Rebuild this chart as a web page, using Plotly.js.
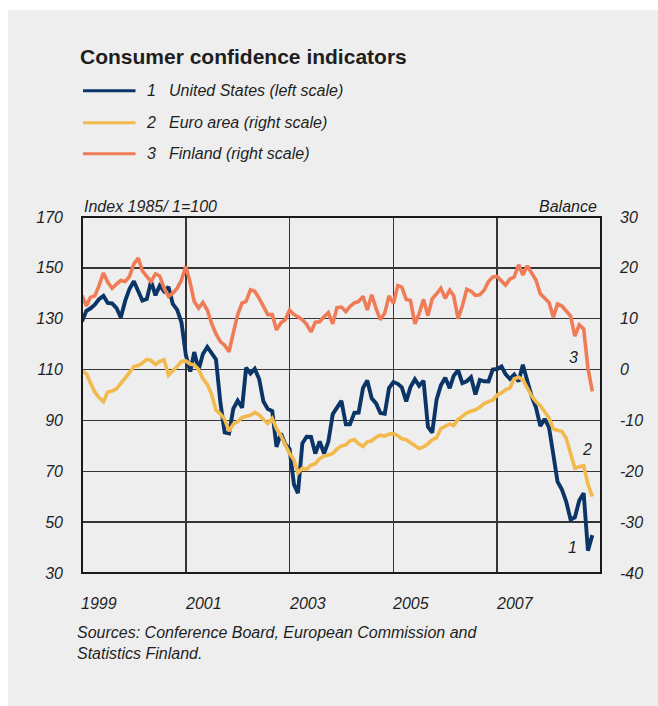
<!DOCTYPE html>
<html>
<head>
<meta charset="utf-8">
<script src="https://cdn.plot.ly/plotly-3.0.1.min.js"></script>
<style>
  html, body { margin:0; padding:0; background:#ffffff; }
  #panel { position:absolute; left:8px; top:10px; width:650px; height:696px; background:#eeeeee; }
  #chart { position:absolute; left:0; top:0; width:658px; height:706px; }
</style>
</head>
<body>
<div id="panel"></div>
<div id="chart"></div>
<script>
// ---- Data (monthly, Jan 1999 - Nov 2008) ----
const startYear = 1999;
const usIndex = [
  128.9, 133.1, 134.0, 135.5, 137.7, 139.0, 136.2, 136.0, 134.2, 130.5, 137.0, 141.7,
  144.7, 140.8, 137.1, 137.7, 144.7, 139.2, 143.0, 140.8, 142.5, 135.8, 133.5, 128.6,
  115.7, 109.2, 116.9, 109.9, 116.1, 118.9, 116.3, 114.0, 97.0, 85.3, 84.9, 94.6,
  97.8, 95.0, 110.7, 108.5, 110.3, 106.3, 97.4, 94.5, 93.7, 79.6, 84.9, 80.7,
  78.8, 64.8, 61.4, 81.0, 83.6, 83.5, 77.0, 81.7, 77.0, 81.7, 92.5, 94.8,
  97.7, 88.5, 88.5, 93.0, 93.1, 102.8, 105.7, 98.7, 96.7, 92.9, 92.6, 102.7,
  105.1, 104.4, 103.0, 97.5, 103.1, 106.2, 103.6, 105.6, 87.5, 85.2, 98.3, 103.8,
  106.8, 102.7, 107.5, 109.8, 104.7, 105.4, 107.0, 100.2, 105.9, 105.4, 105.3, 110.0,
  110.2, 111.2, 108.2, 106.3, 108.0, 105.3, 111.9, 105.6, 99.5, 95.2, 87.8, 90.6,
  87.3, 76.4, 65.9, 62.8, 58.1, 51.0, 51.9, 58.5, 61.4, 38.8, 44.9
];
const euroBalance = [
  -0.3, -0.8, -2.6, -4.4, -5.5, -6.3, -4.4, -4.2, -3.8, -2.8, -1.5, -0.6,
  0.6, 0.8, 1.3, 2.0, 1.8, 1.0, 1.6, 1.9, -1.1, -0.3, 0.6, 1.6,
  1.7, 1.1, 0.9, 0.0, -1.8, -2.9, -4.8, -8.0, -8.7, -9.8, -12.1, -10.7,
  -10.2, -9.4, -9.2, -9.0, -8.4, -8.9, -9.8, -10.6, -9.6, -11.6, -13.0, -14.9,
  -16.5, -17.8, -20.3, -19.4, -19.6, -18.8, -18.5, -17.5, -17.0, -16.8, -16.5, -15.6,
  -15.0, -14.8, -14.0, -13.8, -14.6, -15.1, -14.2, -14.0, -13.3, -12.9, -13.1, -12.7,
  -12.6, -13.0, -13.6, -13.8, -14.3, -15.0, -15.5, -15.2, -14.6, -13.8, -13.4, -11.6,
  -11.1, -10.7, -11.0, -9.8, -9.2, -8.5, -8.2, -7.9, -7.4, -6.7, -6.3, -6.0,
  -5.0, -4.6, -4.0, -3.6, -1.8, -1.5, -2.0, -3.8, -5.2, -6.3, -7.1, -8.3,
  -9.5, -11.7, -12.0, -12.2, -13.5, -16.5, -19.4, -19.1, -18.9, -22.5, -25.0
];
const finlandBalance = [
  14.6, 12.5, 14.2, 14.5, 16.5, 19.0, 17.2, 16.0, 16.8, 17.5, 17.3, 18.3,
  20.8, 21.9, 19.4, 18.3, 17.3, 18.8, 18.4, 16.0, 14.4, 15.0, 16.0, 17.6,
  20.3, 17.0, 13.4, 12.1, 13.2, 11.7, 9.1, 7.0, 5.5, 4.8, 3.5, 7.2,
  10.8, 13.1, 13.4, 15.7, 15.4, 14.0, 12.3, 10.8, 10.8, 7.8, 9.2, 9.8,
  11.7, 10.8, 10.4, 9.8, 8.9, 7.4, 9.3, 9.4, 10.4, 11.2, 9.0, 12.2,
  12.3, 11.4, 12.4, 13.1, 13.4, 14.4, 11.7, 14.7, 12.0, 9.8, 11.1, 14.5,
  13.0, 16.5, 16.2, 13.8, 13.6, 9.0, 11.0, 13.8, 10.6, 13.9, 14.9, 16.0,
  14.0, 15.6, 14.5, 10.0, 12.5, 15.8, 15.4, 14.6, 14.7, 15.6, 17.3, 18.2,
  18.3, 17.4, 16.6, 17.8, 18.2, 20.6, 18.6, 20.4, 19.0, 17.6, 14.9, 14.0,
  13.2, 10.3, 12.9, 12.5, 11.6, 10.5, 6.6, 8.8, 8.0, 0.3, -4.3
];
const seriesNames = ['United States (left scale)', 'Euro area (right scale)', 'Finland (right scale)'];
const yearLabels = ['1999', '2001', '2003', '2005', '2007'];
const leftTicks = [30, 50, 70, 90, 110, 130, 150, 170];
const rightTicks = [-40, -30, -20, -10, 0, 10, 20, 30];
const rightTickText = ['-40', '-30', '-20', '-10', '0', '10', '20', '30'];

// ---- Build dates ----
function monthDate(i) {
  const y = startYear + Math.floor(i / 12);
  const m = (i % 12) + 1;
  return y + '-' + (m < 10 ? '0' + m : m) + '-01';
}
const dates = usIndex.map((_, i) => monthDate(i));

// ---- Styling / geometry ----
const W = 658, H = 706, L = 82, R = 57, T = 217, B = 133;
const pw = W - L - R, ph = H - T - B;
const px = v => (v - L) / pw;
const py = v => (H - B - v) / ph;
const FONT = 'Liberation Sans, Arial, Helvetica, sans-serif';
const TXT = '#1e1e1e';
const colUS = '#0b3467', colEU = '#f2b94c', colFI = '#f07c57';

const traces = [
  { x: dates, y: finlandBalance, yaxis: 'y2', type: 'scatter', mode: 'lines', name: seriesNames[2],
    line: { color: colFI, width: 3.6 } },
  { x: dates, y: euroBalance, yaxis: 'y2', type: 'scatter', mode: 'lines', name: seriesNames[1],
    line: { color: colEU, width: 3.6 } },
  { x: dates, y: usIndex, yaxis: 'y', type: 'scatter', mode: 'lines', name: seriesNames[0],
    line: { color: colUS, width: 3.9 } }
];

const italic = (size) => ({ family: FONT, size: size, color: TXT, style: 'italic' });

const annotations = [];
// Year labels
yearLabels.forEach(yl => {
  annotations.push({ x: yl + '-01-01', xref: 'x', y: 0, yref: 'paper', yanchor: 'middle', xanchor: 'left',
    xshift: -3, yshift: -30, text: yl, showarrow: false, font: italic(16) });
});
// Axis unit labels
annotations.push({ x: 0, xref: 'paper', y: 1, yref: 'paper', xanchor: 'left', yanchor: 'bottom', yshift: 0,
  text: 'Index 1985/ 1=100', showarrow: false, font: italic(16) });
annotations.push({ x: 1, xref: 'paper', y: 1, yref: 'paper', xanchor: 'right', yanchor: 'bottom', xshift: -2,
  text: 'Balance', showarrow: false, font: italic(16) });
// Legend
const legendY = [90.7, 122.7, 153.7];
const legendCols = [colUS, colEU, colFI];
const shapes = [];
seriesNames.forEach((nm, i) => {
  shapes.push({ type: 'line', xref: 'paper', yref: 'paper', x0: px(83), x1: px(135.5), y0: py(legendY[i]), y1: py(legendY[i]),
    line: { color: legendCols[i], width: 3 } });
  annotations.push({ x: px(158), xref: 'paper', y: py(legendY[i]), yref: 'paper', xanchor: 'right', yanchor: 'middle',
    text: String(i + 1), showarrow: false, font: italic(16) });
  annotations.push({ x: px(167), xref: 'paper', y: py(legendY[i]), yref: 'paper', xanchor: 'left', yanchor: 'middle',
    text: nm, showarrow: false, font: italic(16) });
});
// Line labels
[['3', 573.7, 357.7], ['2', 587, 449.3], ['1', 572.3, 547.7]].forEach(a => {
  annotations.push({ x: px(a[1]), xref: 'paper', y: py(a[2]), yref: 'paper', xanchor: 'center', yanchor: 'middle',
    text: a[0], showarrow: false, font: italic(16) });
});
// Sources
annotations.push({ x: px(74.7), xref: 'paper', y: py(643), yref: 'paper', xanchor: 'left', yanchor: 'middle', align: 'left',
  text: 'Sources: Conference Board, European Commission and<br>Statistics Finland.', showarrow: false, font: italic(16) });

// Plot frame
shapes.push({ type: 'rect', xref: 'paper', yref: 'paper', x0: 0, x1: 1, y0: 0, y1: 1,
  line: { color: '#1a1a1a', width: 2 }, layer: 'above' });

const layout = {
  width: W, height: H,
  margin: { l: L, r: R, t: T, b: B, pad: 0 },
  paper_bgcolor: 'rgba(0,0,0,0)',
  plot_bgcolor: 'rgba(0,0,0,0)',
  showlegend: false,
  title: { text: 'Consumer confidence indicators', xref: 'container', yref: 'container',
    x: 80 / W, xanchor: 'left', y: 1 - 57 / H, yanchor: 'middle',
    font: { family: FONT, size: 21, color: TXT, weight: 'bold' } },
  xaxis: {
    type: 'date', range: ['1999-01-01', '2009-01-01'],
    tickvals: ['2001-01-01', '2003-01-01', '2005-01-01', '2007-01-01'],
    showticklabels: false, ticks: '', showgrid: true, gridcolor: '#353535', gridwidth: 1.3,
    zeroline: false, showline: false, fixedrange: true
  },
  yaxis: {
    range: [30, 170], tickvals: leftTicks, ticks: '', showgrid: true, gridcolor: '#353535', gridwidth: 1.3,
    zeroline: false, showline: false, tickfont: italic(16), ticklabelstandoff: 18
  },
  yaxis2: {
    range: [-40, 30], overlaying: 'y', side: 'right', tickvals: rightTicks, ticktext: rightTickText,
    ticks: '', showgrid: false, zeroline: false, showline: false, tickfont: italic(16), ticklabelstandoff: 18
  },
  shapes: shapes,
  annotations: annotations
};

Plotly.newPlot('chart', traces, layout, { staticPlot: true, displayModeBar: false });
</script>
</body>
</html>
